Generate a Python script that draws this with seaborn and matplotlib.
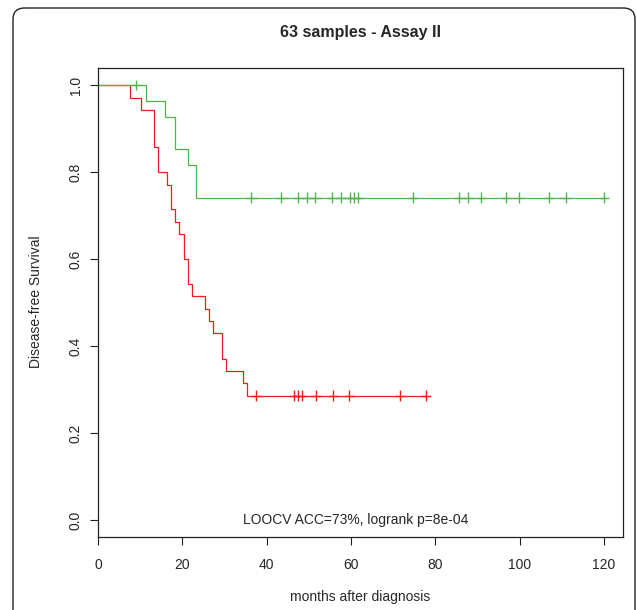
import numpy as np
import pandas as pd
import matplotlib
matplotlib.use("Agg")
import matplotlib.pyplot as plt
from matplotlib.patches import FancyBboxPatch
import seaborn as sns

# ---- data ----
title = "63 samples - Assay II"
xlabel = "months after diagnosis"
ylabel = "Disease-free Survival"
annotation = "LOOCV ACC=73%, logrank p=8e-04"

green_times = [0, 11.4, 15.9, 18.3, 21.3, 23.2, 120.0]
green_surv = [1.0, 0.963, 0.926, 0.852, 0.815, 0.741, 0.741]
green_cens_times = [9.0, 36.4, 43.5, 47.5, 49.6, 51.5, 55.6, 57.6, 59.7, 60.6, 61.7,
                    74.7, 85.7, 87.8, 90.8, 96.8, 99.8, 106.9, 110.9, 120.0]
green_cens_surv = [1.0] + [0.741] * 19

red_times = [0, 7.5, 10.2, 13.3, 14.3, 16.4, 17.3, 18.3, 19.3, 20.3, 21.3, 22.3,
             25.4, 26.3, 27.3, 29.4, 30.4, 34.4, 35.4, 77.8]
red_surv = [1.0, 0.971, 0.943, 0.857, 0.800, 0.771, 0.714, 0.686, 0.657, 0.600,
            0.543, 0.514, 0.486, 0.457, 0.429, 0.371, 0.343, 0.314, 0.286, 0.286]
red_cens_times = [37.5, 46.5, 47.5, 48.4, 51.6, 55.7, 59.5, 71.7, 77.8]
red_cens_surv = [0.286] * 9

x_ticks = [0, 20, 40, 60, 80, 100, 120]
y_ticks = [0.0, 0.2, 0.4, 0.6, 0.8, 1.0]
y_tick_labels = ["0.0", "0.2", "0.4", "0.6", "0.8", "1.0"]

colors = {"red": "#EE1C1C", "green": "#4DB848"}

# ---- tables ----
curves = pd.concat([
    pd.DataFrame({"t": red_times, "s": red_surv, "group": "red"}),
    pd.DataFrame({"t": green_times, "s": green_surv, "group": "green"}),
], ignore_index=True)
cens = pd.concat([
    pd.DataFrame({"t": red_cens_times, "s": red_cens_surv, "group": "red"}),
    pd.DataFrame({"t": green_cens_times, "s": green_cens_surv, "group": "green"}),
], ignore_index=True)

sns.set_style("white")
plt.rcParams["font.family"] = ["Liberation Sans", "DejaVu Sans"]

W, H = 637, 610
fig = plt.figure(figsize=(W / 100, H / 100), dpi=100)

# rounded outer border (top at 8 px, bottom running past the image edge)
border = FancyBboxPatch((13 / W, -30 / H), (635 - 13) / W, (H - 8 + 30) / H,
                        boxstyle="round,pad=0,rounding_size=0.018",
                        transform=fig.transFigure, fill=False,
                        edgecolor="#222222", linewidth=1.0, clip_on=False)
fig.patches.append(border)

left, right, top, bottom = 98, 623, 67.6, 537.4
ax = fig.add_axes([left / W, 1 - bottom / H, (right - left) / W, (bottom - top) / H])

sns.lineplot(data=curves, x="t", y="s", hue="group", palette=colors,
             estimator=None, sort=False, drawstyle="steps-post",
             linewidth=0.9, legend=False, ax=ax)
sns.scatterplot(data=cens, x="t", y="s", hue="group", palette=colors,
                marker="+", s=60, linewidth=1.0, legend=False, ax=ax)

ax.set_xlim(0, 124.5)
ax.set_ylim(-0.04, 1.04)
ax.set_xticks(x_ticks)
ax.set_xticklabels([str(v) for v in x_ticks], fontsize=10)
ax.set_yticks(y_ticks)
ax.set_yticklabels(y_tick_labels, fontsize=10, rotation=90, va="center")
ax.tick_params(axis="both", direction="out", length=6, width=0.8, color="#222222",
               bottom=True, left=True)
ax.tick_params(axis="x", pad=9)
ax.tick_params(axis="y", pad=5)
for sp in ax.spines.values():
    sp.set_visible(True)
    sp.set_color("#222222")
    sp.set_linewidth(0.9)
ax.set_xlabel("")
ax.set_ylabel("")

ax.text(61, 0.0, annotation, ha="center", va="center", fontsize=10)

fig.text(360.5 / W, 1 - 32 / H, title, ha="center", va="center",
         fontsize=11.5, fontweight="bold")
fig.text(360.5 / W, 1 - 597 / H, xlabel, ha="center", va="center", fontsize=10)
fig.text(36 / W, 1 - 302 / H, ylabel, ha="center", va="center", fontsize=10,
         rotation=90)

fig.savefig("out.png", dpi=100)
